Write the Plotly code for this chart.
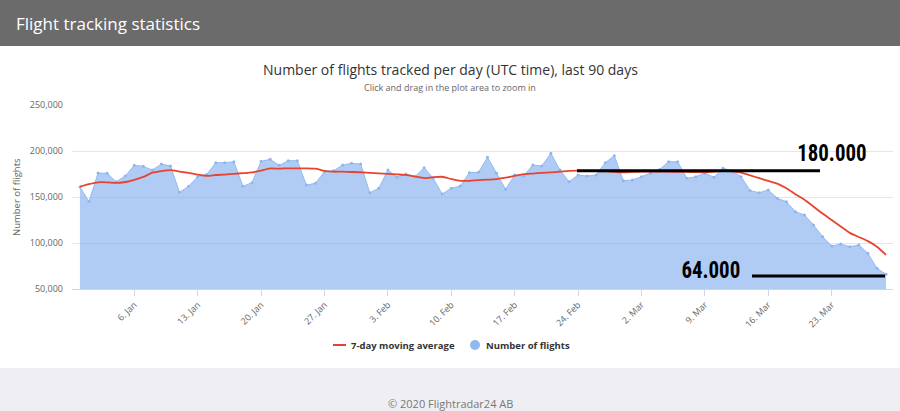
import plotly.graph_objects as go
import pandas as pd

# ---------------- data ----------------
start_date = "2019-12-31"
flights = [
    161000, 145000, 176000, 175800, 166600, 172800, 184400, 183300, 179300, 185800,
    183700, 155100, 161600, 172000, 174500, 187300, 187300, 188400, 161600, 165600,
    188800, 191000, 184400, 189500, 189500, 163000, 164900, 177500, 178600, 184800,
    186600, 185800, 154700, 159500, 179300, 171400, 175000, 172100, 181900, 170300,
    153300, 159500, 162000, 176400, 176800, 193100, 175800, 158400, 173900, 172800,
    184800, 183700, 197500, 179300, 166600, 173900, 172800, 173900, 187300, 194900,
    167700, 168500, 172100, 175800, 180000, 188400, 188400, 170300, 172100, 175800,
    171400, 181200, 178600, 172100, 156900, 154700, 157600, 148600, 144900, 134100,
    130400, 119600, 106800, 96700, 98900, 96000, 97800, 88800, 72500, 66000,
]
moving_avg = [
    161200, 164000, 166000, 166000, 165300, 166300, 168700, 171800, 176400, 178200,
    179300, 177700, 176200, 174300, 173000, 173900, 174400, 175200, 175900, 176700,
    178600, 181000, 180800, 181200, 181200, 181200, 180800, 178500, 177500, 177500,
    177200, 176900, 176200, 175600, 175200, 174600, 174000, 172300, 170600, 171500,
    172000, 169500, 167500, 167600, 168300, 168800, 169500, 171000, 173000, 174800,
    175500, 176200, 176800, 177500, 178300, 178600, 178400, 178200, 177800, 177300,
    176800, 177300, 177500, 177500, 177500, 177500, 177300, 177300, 177000, 176900,
    177500, 178300, 178000, 176500, 173500, 170500, 167500, 164500, 159500, 153000,
    147000, 139500, 132000, 125000, 118000, 111000, 106500, 102000, 96000, 87000,
]
tick_dates = ["2020-01-06", "2020-01-13", "2020-01-20", "2020-01-27", "2020-02-03",
              "2020-02-10", "2020-02-17", "2020-02-24", "2020-03-02", "2020-03-09",
              "2020-03-16", "2020-03-23"]
tick_labels = ["6. Jan", "13. Jan", "20. Jan", "27. Jan", "3. Feb", "10. Feb",
               "17. Feb", "24. Feb", "2. Mar", "9. Mar", "16. Mar", "23. Mar"]
y_ticks = [50000, 100000, 150000, 200000, 250000]
y_tick_labels = ["50,000", "100,000", "150,000", "200,000", "250,000"]
marked_levels = [180000, 64000]
marked_labels = ["180.000", "64.000"]

dates = pd.date_range(start_date, periods=len(flights), freq="D")

# ---------------- layout geometry (pixels) ----------------
W, H = 900, 411
L, R, T, B = 72, 7, 105, 122
PW, PH = W - L - R, H - T - B


def px(xp):
    return (xp - L) / PW


def py(yp):
    return (H - B - yp) / PH


FONT = "Open Sans, Noto Sans, sans-serif"
NARROW = "Liberation Sans Narrow, Roboto Condensed, Liberation Sans, Arial, sans-serif"
RED = "#e8432f"

fig = go.Figure()
fig.add_trace(go.Scatter(
    x=dates, y=flights, name="Number of flights", mode="lines+markers",
    fill="tozeroy", fillcolor="rgba(124,170,236,0.60)",
    line=dict(color="rgba(140,182,240,0.9)", width=1),
    marker=dict(size=3, color="rgba(140,182,240,1)"),
    showlegend=False,
))
fig.add_trace(go.Scatter(
    x=dates, y=moving_avg, name="7-day moving average", mode="lines",
    line=dict(color=RED, width=1.8, shape="spline", smoothing=0.6),
    showlegend=False,
))

shapes = [
    # header bar
    dict(type="rect", xref="paper", yref="paper", x0=px(0), x1=px(W), y0=py(46), y1=py(0),
         fillcolor="#6b6b6b", line=dict(width=0), layer="below"),
    # footer band
    dict(type="rect", xref="paper", yref="paper", x0=px(0), x1=px(W), y0=py(H), y1=py(368),
         fillcolor="#efeff3", line=dict(width=0), layer="below"),
    # legend symbols
    dict(type="line", xref="paper", yref="paper", x0=px(333), x1=px(346), y0=py(345), y1=py(345),
         line=dict(color=RED, width=2)),
    dict(type="circle", xref="paper", yref="paper", x0=px(470), x1=px(480), y0=py(350), y1=py(340),
         fillcolor="#90b8f0", line=dict(width=0)),
    # overlay reference lines
    dict(type="line", xref="paper", yref="y", x0=px(577), x1=px(820),
         y0=marked_levels[0] - 1500, y1=marked_levels[0] - 1500, line=dict(color="black", width=3)),
    dict(type="line", xref="paper", yref="y", x0=px(752), x1=px(885),
         y0=marked_levels[1], y1=marked_levels[1], line=dict(color="black", width=3)),
]

annotations = [
    dict(text="Flight tracking statistics", x=px(14), y=py(24), xref="paper", yref="paper",
         xanchor="left", yanchor="middle", showarrow=False,
         font=dict(family=FONT, size=17, color="white")),
    dict(text="Number of flights tracked per day (UTC time), last 90 days", x=px(450), y=py(69),
         xref="paper", yref="paper", xanchor="center", yanchor="middle", showarrow=False,
         font=dict(family=FONT, size=14, color="#333333")),
    dict(text="Click and drag in the plot area to zoom in", x=px(450), y=py(88),
         xref="paper", yref="paper", xanchor="center", yanchor="middle", showarrow=False,
         font=dict(family=FONT, size=9, color="#666666")),
    dict(text="Number of flights", x=px(16), y=py(197), xref="paper", yref="paper",
         xanchor="center", yanchor="middle", textangle=-90, showarrow=False,
         font=dict(family=FONT, size=9.5, color="#666666")),
    dict(text="<b>7-day moving average</b>", x=px(349), y=py(345), xref="paper", yref="paper",
         xanchor="left", yanchor="middle", showarrow=False,
         font=dict(family=FONT, size=9.5, color="#333333")),
    dict(text="<b>Number of flights</b>", x=px(484), y=py(345), xref="paper", yref="paper",
         xanchor="left", yanchor="middle", showarrow=False,
         font=dict(family=FONT, size=9.5, color="#333333")),
    dict(text="© 2020 Flightradar24 AB", x=px(450), y=py(403), xref="paper", yref="paper",
         xanchor="center", yanchor="middle", showarrow=False,
         font=dict(family=FONT, size=11, color="#777777")),
    dict(text="<b>" + marked_labels[0] + "</b>", x=px(832), y=py(153), xref="paper", yref="paper",
         xanchor="center", yanchor="middle", showarrow=False,
         font=dict(family=NARROW, size=24, color="black")),
    dict(text="<b>" + marked_labels[1] + "</b>", x=px(711), y=py(270), xref="paper", yref="paper",
         xanchor="center", yanchor="middle", showarrow=False,
         font=dict(family=NARROW, size=24, color="black")),
]

fig.update_layout(
    width=W, height=H, autosize=False,
    margin=dict(l=L, r=R, t=T, b=B, pad=0),
    paper_bgcolor="white", plot_bgcolor="white",
    font=dict(family=FONT, color="#666666"),
    shapes=shapes, annotations=annotations,
    hovermode="x",
)
fig.update_xaxes(
    type="date", range=["2019-12-30 03:00", "2020-03-29 18:30"],
    tickvals=tick_dates, ticktext=tick_labels, tickangle=-45,
    tickfont=dict(family=FONT, size=9, color="#666666"),
    ticks="outside", ticklen=6, tickcolor="#ccd6eb", tickwidth=1,
    showline=True, linecolor="#ccd6eb", linewidth=1,
    showgrid=False, zeroline=False,
)
fig.update_yaxes(
    range=[50000, 250000], tickvals=y_ticks, ticktext=y_tick_labels,
    tickfont=dict(family=FONT, size=9, color="#666666"),
    showgrid=True, gridcolor="#e6e6e6", gridwidth=1,
    zeroline=False, showline=False, ticks="", ticklabelstandoff=8,
)

# squeeze the two big overlay labels horizontally (condensed look)
post_js = """
(function(){
  var gd = document.getElementById('{plot_id}');
  function squeeze(){
    var labels = %s;
    gd.querySelectorAll('text.annotation-text').forEach(function(t){
      if (labels.indexOf(t.textContent) >= 0) {
        t.removeAttribute('transform');
        var bb = t.getBBox();
        var cx = bb.x + bb.width / 2;
        t.setAttribute('transform', 'translate(' + cx + ',0) scale(0.87,1) translate(' + (-cx) + ',0)');
      }
    });
  }
  squeeze();
  gd.on('plotly_afterplot', squeeze);
})();
""" % str(marked_labels).replace("'", '"')

fig.write_html("out.html", post_script=post_js)
